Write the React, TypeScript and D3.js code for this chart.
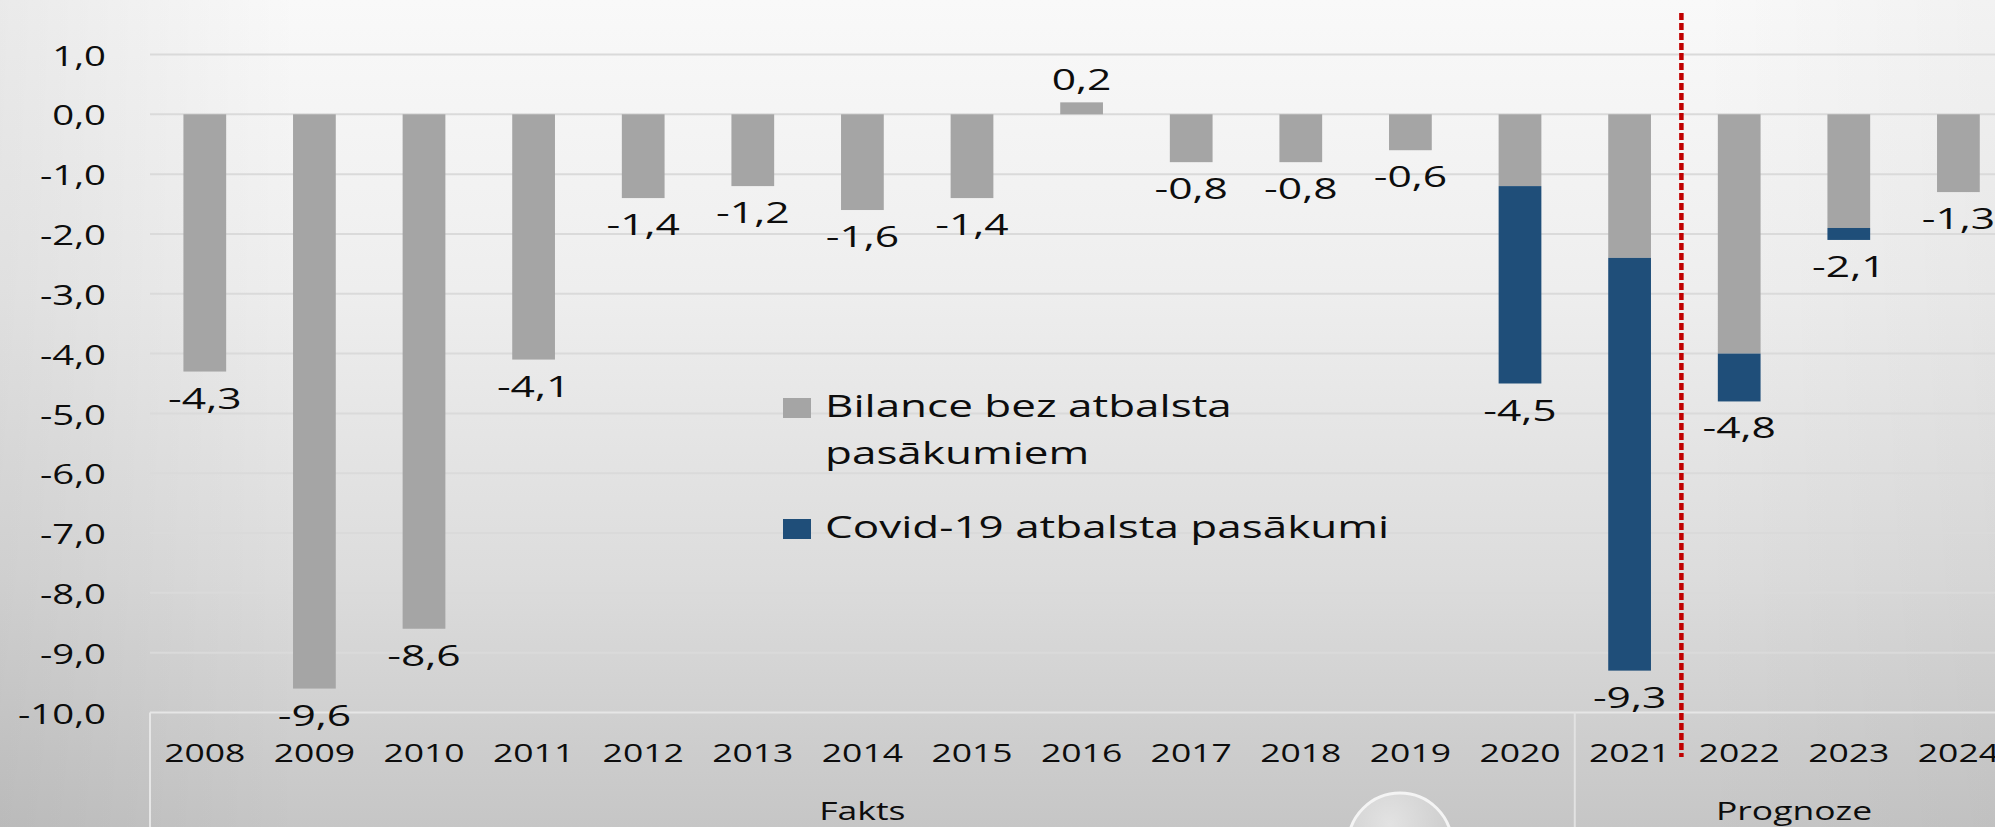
import React from 'react';
import * as d3 from 'd3';

// kategorijas un vērtības (% no IKP)
const years = ['2008', '2009', '2010', '2011', '2012', '2013', '2014', '2015', '2016', '2017', '2018', '2019', '2020', '2021', '2022', '2023', '2024'];
const baseBalance = [-4.3, -9.6, -8.6, -4.1, -1.4, -1.2, -1.6, -1.4, 0.2, -0.8, -0.8, -0.6, -1.2, -2.4, -4.0, -1.9, -1.3];
const covidSupport = [0, 0, 0, 0, 0, 0, 0, 0, 0, 0, 0, 0, -3.3, -6.9, -0.8, -0.2, 0];
const yTicks = [1, 0, -1, -2, -3, -4, -5, -6, -7, -8, -9, -10];
const groups = [
  {name: 'Fakts', from: '2008', to: '2020'},
  {name: 'Prognoze', from: '2021', to: '2024'}
];
const legendItems = [
  {lines: ['Bilance bez atbalsta', 'pasākumiem'], color: '#A5A5A5'},
  {lines: ['Covid-19 atbalsta pasākumi'], color: '#1F4E79'}
];

const W = 1995;
const H = 827;
const SX = 1.42; // attēls ir izstiepts horizontāli
const FONT = '"Open Sans", sans-serif';
const INK = '#0d0d0d';

const fmt = v => (Math.abs(v) < 1e-9 ? 0 : v).toFixed(1).replace('.', ',');

function Txt({x, y, size, anchor = 'middle', children, baseline}) {
  return (
    <text
      transform={`translate(${x},${y}) scale(${SX},1)`}
      textAnchor={anchor}
      dominantBaseline={baseline}
      fontFamily={FONT}
      fontSize={size}
      fill={INK}
    >
      {children}
    </text>
  );
}

export default function App() {
  const left = 150;
  const step = 109.6;
  const x = d3.scaleBand()
    .domain(years)
    .range([left, left + step * years.length])
    .paddingInner(0.61)
    .paddingOuter(0.305);
  const y = d3.scaleLinear().domain([1, -10]).range([54.5, 712.5]);

  const rows = years.map((yr, i) => ({year: yr, base: baseBalance[i], covid: covidSupport[i]}));
  const series = d3.stack().keys(['base', 'covid']).offset(d3.stackOffsetDiverging)(rows);
  const colors = {base: '#A5A5A5', covid: '#1F4E79'};

  const totals = years.map((yr, i) => baseBalance[i] + covidSupport[i]);
  const edge = yr => x(yr) - (x.step() - x.bandwidth()) / 2;
  const splitX = edge('2022') - 3;

  return (
    <svg width={W} height={H} style={{position: 'absolute', left: 0, top: 0}}>
      <defs>
        <linearGradient id="bg" x1="0" y1="0" x2="0" y2="1">
          <stop offset="0" stopColor="#f9f9f9" />
          <stop offset="0.35" stopColor="#eeeeee" />
          <stop offset="0.7" stopColor="#dcdcdc" />
          <stop offset="1" stopColor="#c6c6c6" />
        </linearGradient>
        <linearGradient id="side" x1="0" y1="0" x2="1" y2="0">
          <stop offset="0" stopColor="#000" stopOpacity="0.06" />
          <stop offset="0.15" stopColor="#000" stopOpacity="0" />
          <stop offset="0.85" stopColor="#000" stopOpacity="0" />
          <stop offset="1" stopColor="#000" stopOpacity="0.03" />
        </linearGradient>
        <radialGradient id="lens" cx="0.4" cy="0.3" r="0.7">
          <stop offset="0" stopColor="#ffffff" stopOpacity="0.5" />
          <stop offset="1" stopColor="#ffffff" stopOpacity="0.05" />
        </radialGradient>
      </defs>
      <rect width={W} height={H} fill="url(#bg)" />
      <rect width={W} height={H} fill="url(#side)" />

      {yTicks.slice(0, -1).map(t => (
        <line key={t} x1={left} x2={W} y1={y(t)} y2={y(t)} stroke="#dadada" strokeWidth={2} />
      ))}
      {yTicks.map(t => (
        <Txt key={t} x={106} y={y(t) + 1} size={27} anchor="end" baseline="central">{fmt(t)}</Txt>
      ))}

      {/* kategoriju ass ar grupām */}
      <line x1={left} x2={W} y1={y(-10)} y2={y(-10)} stroke="#e6e6e6" strokeWidth={2} />
      <line x1={left} x2={left} y1={y(-10)} y2={H} stroke="#e6e6e6" strokeWidth={2} />
      {groups.slice(1).map(g => (
        <line key={g.name} x1={edge(g.from)} x2={edge(g.from)} y1={y(-10)} y2={H} stroke="#e2e2e2" strokeWidth={2} />
      ))}
      {years.map(yr => (
        <Txt key={yr} x={x(yr) + x.bandwidth() / 2} y={762} size={25}>{yr}</Txt>
      ))}
      {groups.map(g => {
        const a = edge(g.from);
        const b = edge(g.to) + x.step();
        return <Txt key={g.name} x={(a + b) / 2} y={820} size={25}>{g.name}</Txt>;
      })}

      {series.map(s => (
        <g key={s.key} fill={colors[s.key]}>
          {s.map((d, i) => (d[1] - d[0] === 0 ? null : (
            <rect
              key={i}
              x={x(d.data.year)}
              y={y(d[1])}
              width={x.bandwidth()}
              height={y(d[0]) - y(d[1])}
            />
          )))}
        </g>
      ))}

      {totals.map((v, i) => (
        <Txt
          key={years[i]}
          x={x(years[i]) + x.bandwidth() / 2}
          y={v >= 0 ? y(v) - 12 : y(v) + 37}
          size={30}
        >
          {fmt(v)}
        </Txt>
      ))}

      <line x1={splitX} x2={splitX} y1={13} y2={757} stroke="#C00000" strokeWidth={4.5} strokeDasharray="7 3" />

      {/* leģenda */}
      {legendItems.map((it, k) => {
        const top = k === 0 ? 398 : 519;
        return (
          <g key={k}>
            <rect x={783} y={top} width={28} height={20} fill={it.color} />
            {it.lines.map((ln, j) => (
              <Txt key={j} x={825} y={top + 19 + j * 47} size={31} anchor="start">{ln}</Txt>
            ))}
          </g>
        );
      })}

      <circle cx={1400} cy={845} r={52} fill="url(#lens)" stroke="#f4f4f4" strokeWidth={3} />
    </svg>
  );
}
